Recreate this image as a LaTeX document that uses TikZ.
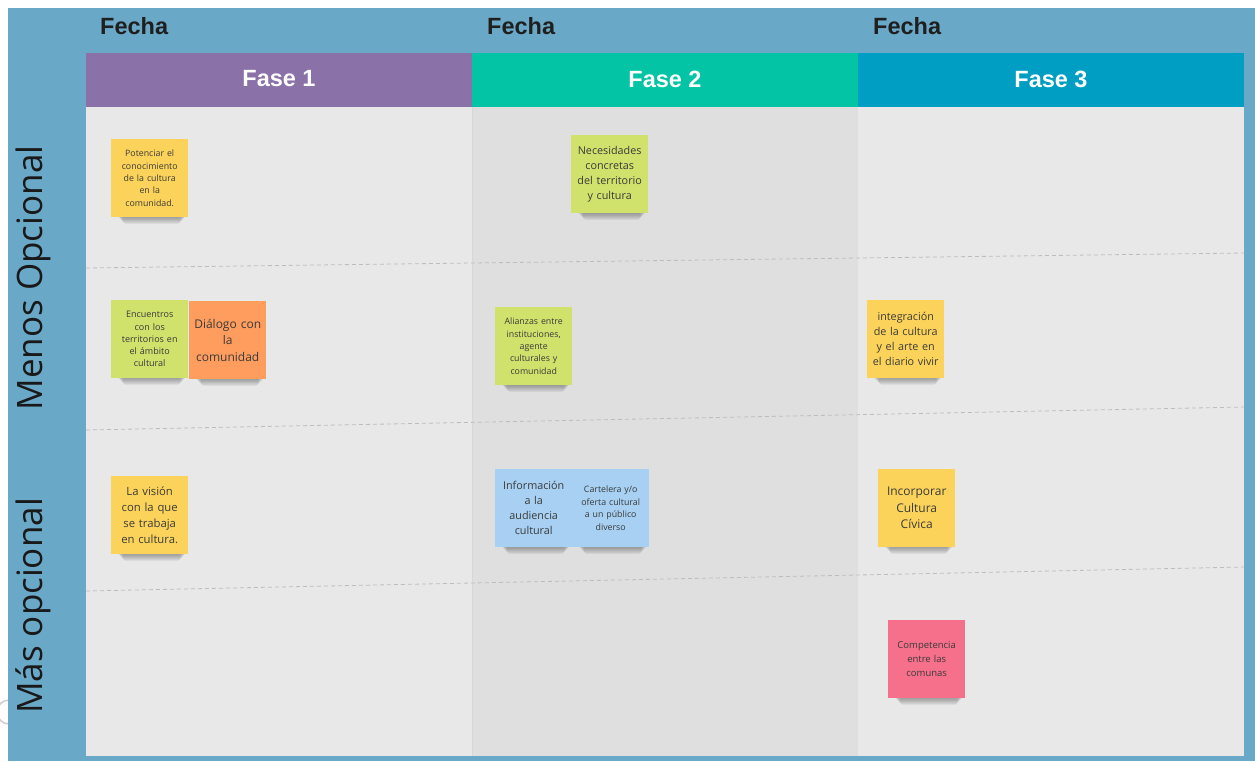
\documentclass[tikz,border=0pt]{standalone}
\usepackage{fontspec}
\setmainfont{Open Sans}
\newfontfamily\headfont{Liberation Sans}
\definecolor{bgblue}{HTML}{6AA8C8}
\definecolor{fasea}{HTML}{8A71A8}
\definecolor{faseb}{HTML}{03C5A6}
\definecolor{fasec}{HTML}{009EC2}
\definecolor{gridlight}{HTML}{E8E8E8}
\definecolor{gridmid}{HTML}{DFDFDF}
\definecolor{divline}{HTML}{D3DAD6}
\definecolor{sy}{HTML}{FCD35A}
\definecolor{sg}{HTML}{D0E26C}
\definecolor{so}{HTML}{FF9D5E}
\definecolor{sb}{HTML}{A7D0F2}
\definecolor{sp}{HTML}{F7708B}
\definecolor{notetext}{HTML}{3A3A3A}
\definecolor{dashgrey}{HTML}{BDBDBD}
\pgfdeclarelayer{bglayer}
\pgfdeclarelayer{shadowlayer}
\pgfsetlayers{bglayer,shadowlayer,main}
\tikzset{
  note/.style={minimum width=77pt, minimum height=78pt, inner sep=0pt,
    align=center, text width=72pt, text=notetext, anchor=north west},
  fechalabel/.style={font=\headfont\bfseries\fontsize{23.5}{27}\selectfont, text=black!88, anchor=west, inner sep=0pt},
  faselabel/.style={font=\headfont\bfseries\fontsize{23.5}{27}\selectfont, text=white, inner sep=0pt},
  sidelabel/.style={font=\fontsize{35}{40}\selectfont, text=black!90, rotate=90, inner sep=0pt},
  rowline/.style={draw=dashgrey, line width=0.8pt, dash pattern=on 4pt off 3pt},
}
\newcommand{\noteshadow}[1]{%
  \begin{pgfonlayer}{shadowlayer}
  \foreach \i in {0,1,2,3,4,5}{
    \fill[black, opacity=0.055, rounded corners=3pt]
      ([xshift={7pt+\i pt}, yshift=3pt]#1.south west) rectangle
      ([xshift={-3pt-\i pt}, yshift={-1pt-1.1*\i pt}]#1.south east);
  }
  \end{pgfonlayer}}
\begin{document}
\begin{tikzpicture}[x=1pt, y=-1pt]
\useasboundingbox (0,0) rectangle (1255,761);
\begin{pgfonlayer}{bglayer}
  % partial circle at left edge
  \draw[black!20, line width=1.5pt] (9,712) circle (12);
  % blue board
  \fill[bgblue] (8,8) rectangle (1255,761);
  % body columns
  \fill[gridlight] (86,107) rectangle (472,756);
  \fill[gridmid] (472,107) rectangle (858,756);
  \fill[gridlight] (858,107) rectangle (1244,756);
  \draw[divline, line width=0.7pt] (472,107) -- (472,756);
  % headers
  \fill[fasea] (86,53) rectangle (472,107);
  \fill[faseb] (472,53) rectangle (858,107);
  \fill[fasec] (858,53) rectangle (1244,107);
  % row dividers
  \coordinate (r1a) at (86,268); \coordinate (r1b) at (1244,253);
  \coordinate (r2a) at (86,430); \coordinate (r2b) at (1244,407);
  \coordinate (r3a) at (86,591); \coordinate (r3b) at (1244,567);
  \draw[rowline] (r1a) -- (r1b);
  \draw[rowline] (r2a) -- (r2b);
  \draw[rowline] (r3a) -- (r3b);
\end{pgfonlayer}

% header texts
\node[fechalabel] (fecha1) at (100,26) {Fecha};
\node[fechalabel] (fecha2) at (487,26) {Fecha};
\node[fechalabel] (fecha3) at (873,26) {Fecha};
\node[faselabel] (fase1) at (279,79) {Fase 1};
\node[faselabel] (fase2) at (665,79) {Fase 2};
\node[faselabel] (fase3) at (1051,79) {Fase 3};

% side labels
\node[sidelabel] (menos) at (33,278) {Menos Opcional};
\node[sidelabel] (mas) at (33,606) {Más opcional};

% sticky notes
\node[note, fill=sy, font=\fontsize{8.8}{12.4}\selectfont] (n1) at (111,139)
  {Potenciar el\\conocimiento\\de la cultura\\en la\\comunidad.\\[2pt]};
\node[note, fill=sg, font=\fontsize{10.8}{15}\selectfont] (n2) at (571,135)
  {Necesidades\\concretas\\del territorio\\y cultura\\[2pt]};
\node[note, fill=sg, font=\fontsize{9}{12.3}\selectfont] (n3) at (111,300)
  {Encuentros\\con los\\territorios en\\el ámbito\\cultural};
\node[note, fill=so, font=\fontsize{12}{16.5}\selectfont] (n4) at (189,301)
  {Diálogo con\\la\\comunidad\\[3pt]};
\node[note, fill=sg, font=\fontsize{8.8}{12.3}\selectfont] (n5) at (495,307)
  {Alianzas entre\\instituciones,\\agente\\culturales y\\comunidad\\[2pt]};
\node[note, fill=sy, font=\fontsize{10.8}{15}\selectfont] (n6) at (867,300)
  {integración\\de la cultura\\y el arte en\\el diario vivir\\[2pt]};
\node[note, fill=sy, font=\fontsize{11.3}{16}\selectfont] (n7) at (111,476)
  {La visión\\con la que\\se trabaja\\en cultura.\\[2pt]};
\node[note, fill=sb, font=\fontsize{10.8}{15}\selectfont] (n8) at (495,469)
  {Información\\a la\\audiencia\\cultural\\[2pt]};
\node[note, fill=sb, font=\fontsize{8.8}{12.7}\selectfont] (n9) at (572,469)
  {Cartelera y/o\\oferta cultural\\a un público\\diverso\\[3pt]};
\node[note, fill=sy, font=\fontsize{12}{16.5}\selectfont] (n10) at (878,469)
  {Incorporar\\Cultura\\Cívica\\[3pt]};
\node[note, fill=sp, font=\fontsize{9.5}{14}\selectfont] (n11) at (888,620)
  {Competencia\\entre las\\comunas\\[3pt]};

\noteshadow{n1}\noteshadow{n2}\noteshadow{n3}\noteshadow{n4}
\noteshadow{n5}\noteshadow{n6}\noteshadow{n7}\noteshadow{n8}
\noteshadow{n9}\noteshadow{n10}\noteshadow{n11}
\end{tikzpicture}
\end{document}
